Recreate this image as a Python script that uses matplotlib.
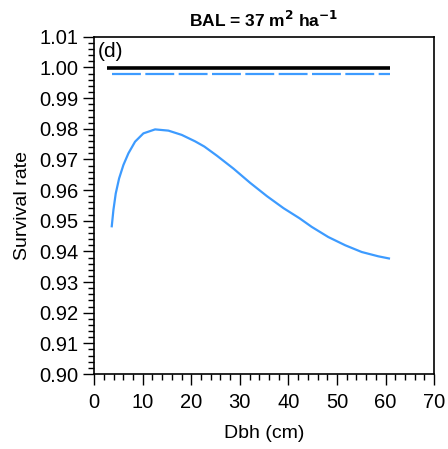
import matplotlib
matplotlib.use('Agg')
import matplotlib.pyplot as plt
from matplotlib.ticker import MultipleLocator, FormatStrFormatter

plt.rcParams['font.family'] = ['Liberation Sans', 'DejaVu Sans']

# curve
dbh = [3.64, 3.98, 4.46, 5.15, 6.04, 7.07, 8.44, 10.15, 12.56, 15.3, 18.05, 20.8,
       22.7, 25.3, 28.7, 32.1, 35.6, 39.0, 42.3, 44.8, 48.2, 51.7, 55.1, 58.5, 60.7]
surv = [0.9482, 0.9535, 0.9589, 0.9638, 0.9682, 0.9720, 0.9758, 0.9785, 0.9798, 0.9794,
        0.9780, 0.9759, 0.9742, 0.9712, 0.9670, 0.9624, 0.9580, 0.9541, 0.9508, 0.9480,
        0.9447, 0.9420, 0.9398, 0.9384, 0.9377]

# flat reference lines
black_x = [2.6, 60.9]
black_y = [0.9998, 0.9998]
blue_x = [3.6, 60.9]
blue_y = [0.9979, 0.9979]

blue = '#3d9bff'

fig = plt.figure(figsize=(4.48, 4.49), dpi=100)
ax = fig.add_axes([0.21, 0.167, 0.759, 0.751])

ax.plot(black_x, black_y, color='black', lw=2.6, solid_capstyle='butt')
ax.plot(blue_x, blue_y, color=blue, lw=1.6, dashes=(13, 2))
ax.plot(dbh, surv, color=blue, lw=1.6)

ax.set_xlim(0, 70)
ax.set_ylim(0.90, 1.01)
ax.xaxis.set_major_locator(MultipleLocator(10))
ax.xaxis.set_minor_locator(MultipleLocator(2))
ax.yaxis.set_major_locator(MultipleLocator(0.01))
ax.yaxis.set_minor_locator(MultipleLocator(0.002))
ax.yaxis.set_major_formatter(FormatStrFormatter('%.2f'))

ax.tick_params(which='major', direction='out', length=8, width=1, labelsize=14.5)
ax.tick_params(axis='x', which='major', pad=6)
ax.tick_params(axis='y', which='major', pad=3)
ax.tick_params(which='minor', direction='out', length=4.5, width=1)
for s in ax.spines.values():
    s.set_linewidth(1.2)

ax.set_xlabel('Dbh (cm)', fontsize=14, labelpad=9)
ax.set_ylabel('Survival rate', fontsize=14, labelpad=6)
ax.set_title(r'BAL = 37 m$^{\mathbf{2}}$ ha$^{\mathbf{-1}}$', fontsize=12.5, fontweight='bold', pad=7)
ax.text(0.012, 0.985, '(d)', transform=ax.transAxes, fontsize=15, va='top', ha='left')

fig.savefig('out.png', dpi=100)
